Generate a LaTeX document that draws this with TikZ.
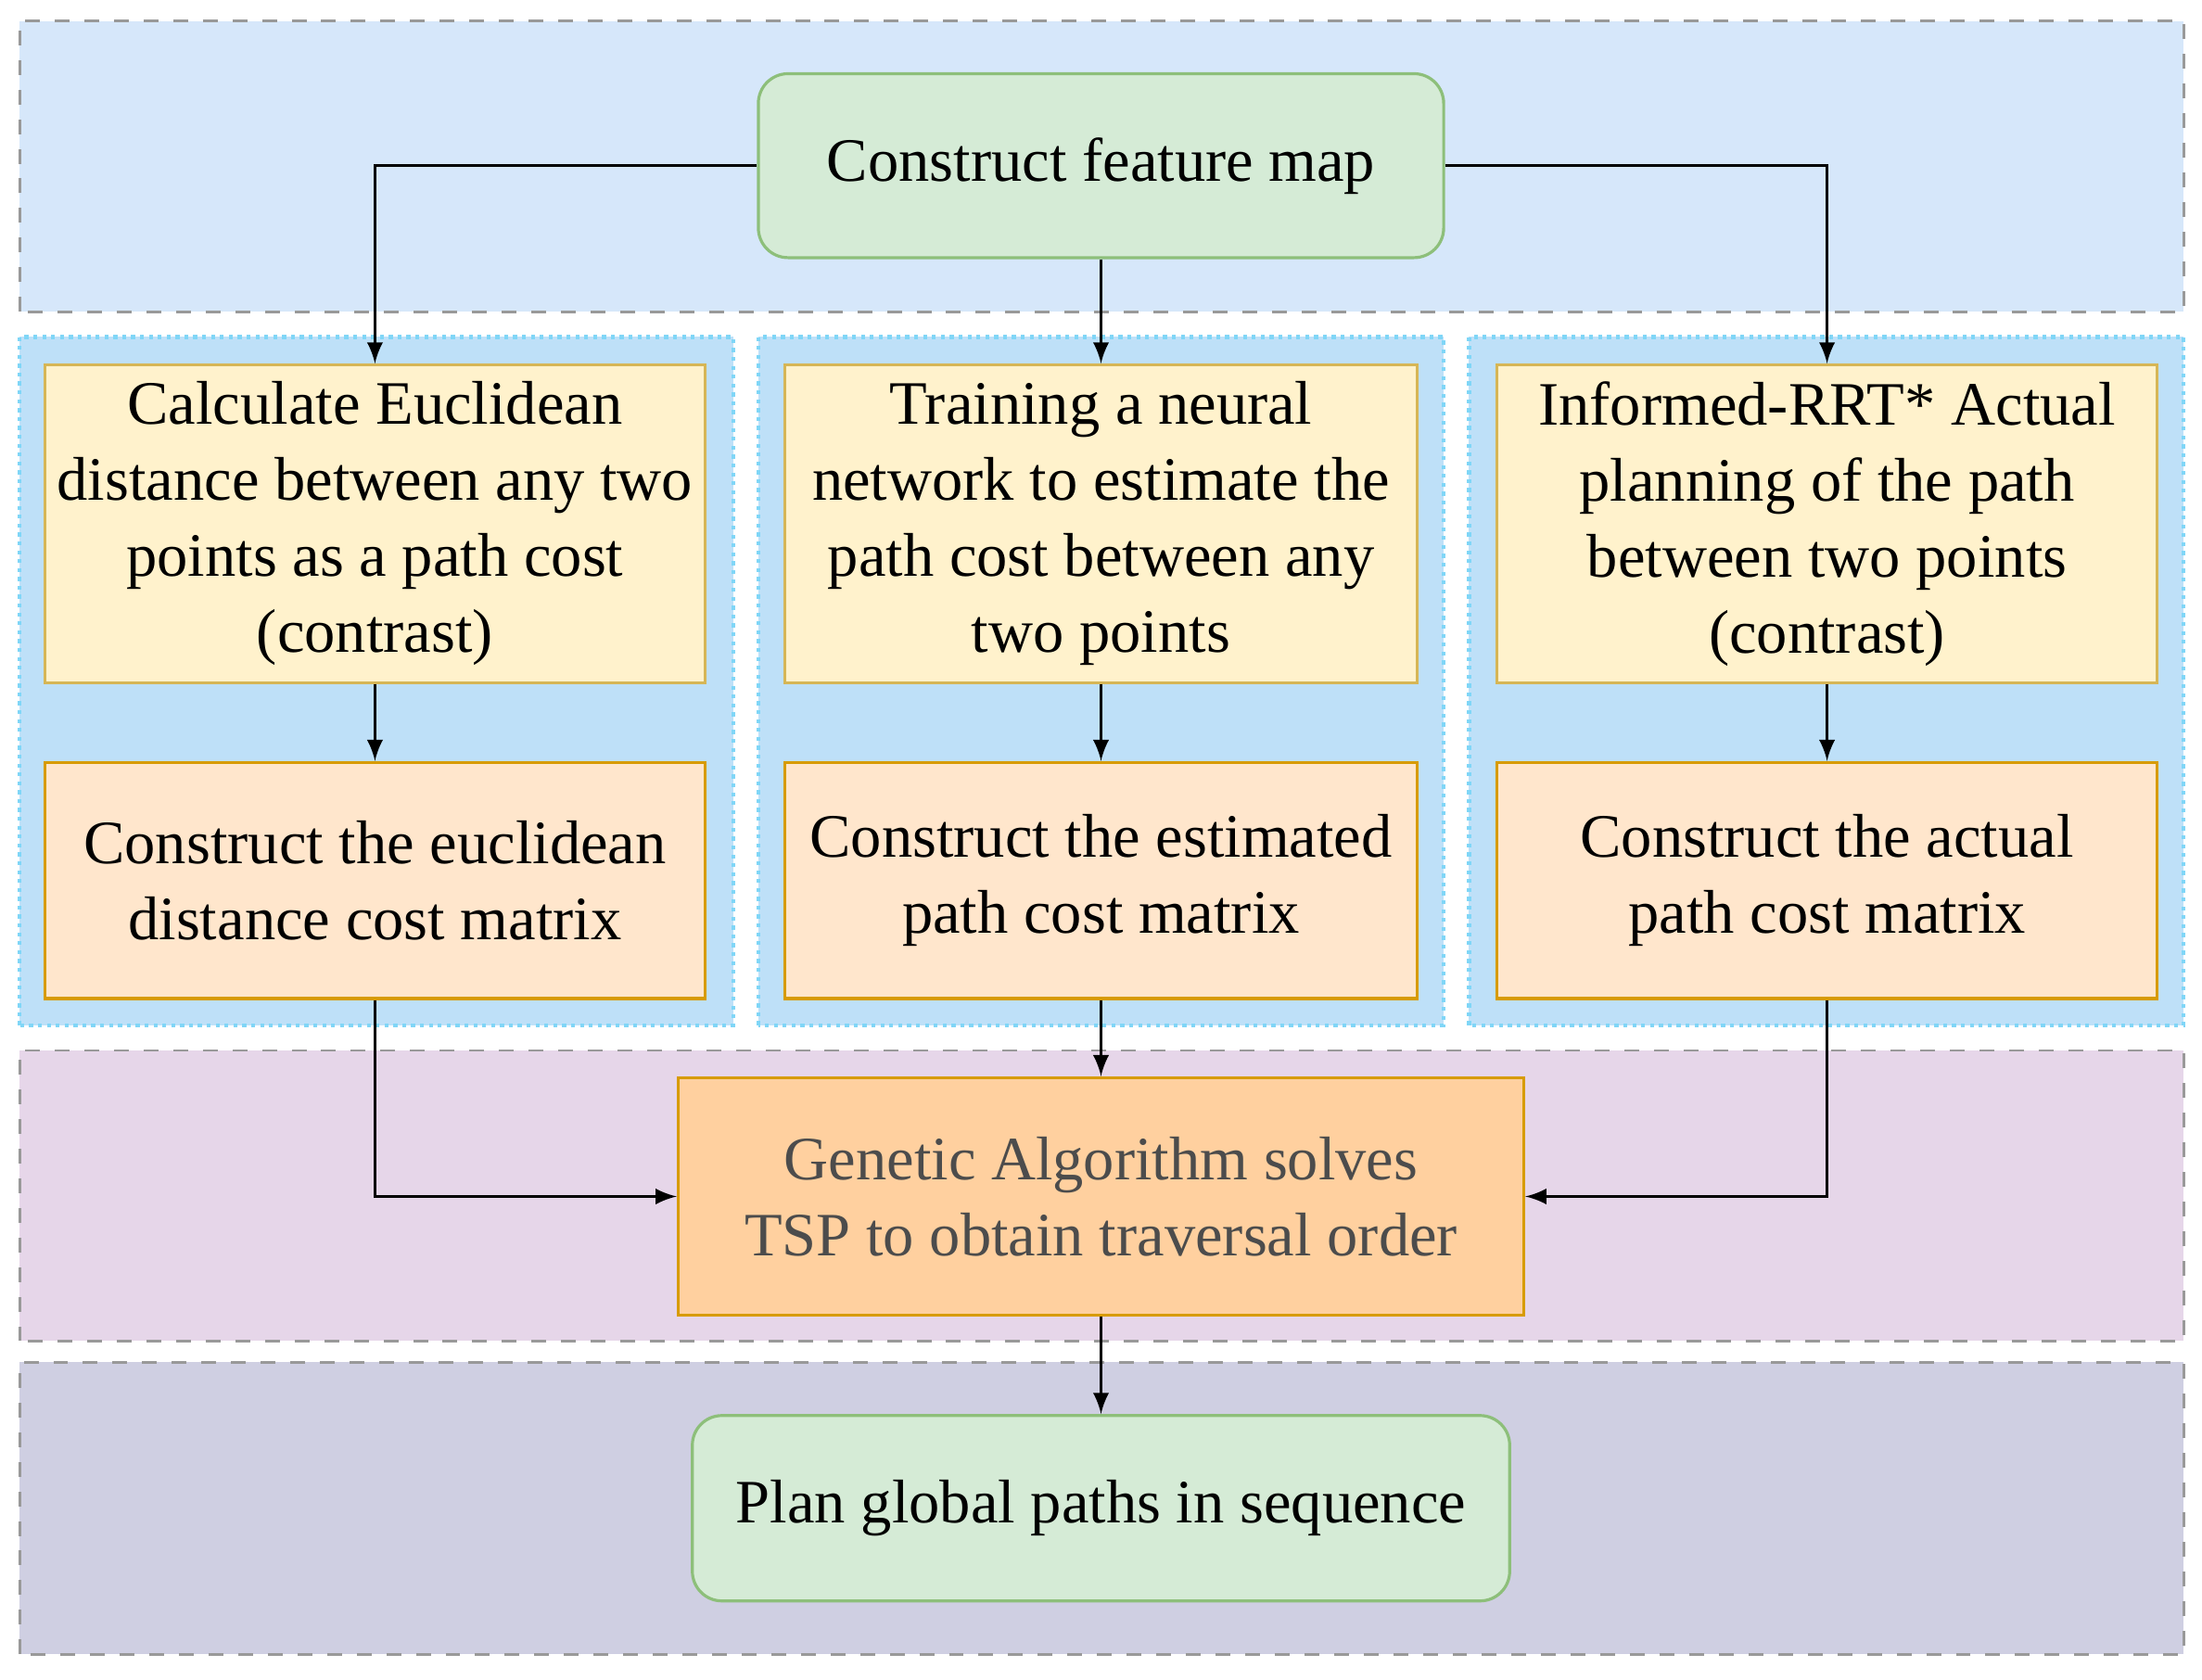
\documentclass[tikz,border=0pt]{standalone}
\usepackage{fontspec}
\setmainfont{Liberation Serif}
\usetikzlibrary{positioning}
\definecolor{bandtop}{HTML}{D6E7FA}
\definecolor{bandcol}{HTML}{BEE0F8}
\definecolor{bandga}{HTML}{E6D6E9}
\definecolor{bandend}{HTML}{CFCFE2}
\definecolor{greenfill}{HTML}{D5EBD6}
\definecolor{greenline}{HTML}{8DBF7A}
\definecolor{yelfill}{HTML}{FFF2CC}
\definecolor{yelline}{HTML}{D6B656}
\definecolor{orafill}{HTML}{FFE6CC}
\definecolor{oraline}{HTML}{D79B00}
\definecolor{gafill}{HTML}{FFD09F}
\tikzset{
  band/.style={draw=gray!80, dashed, line width=0.5pt},
  colband/.style={fill=bandcol, draw=cyan!50, densely dotted, line width=0.8pt},
  green/.style={draw=greenline, fill=greenfill, rounded corners=6pt, line width=0.6pt, align=center},
  costbox/.style={draw=yelline, fill=yelfill, line width=0.6pt, align=center, minimum width=4.7cm, minimum height=2.26cm, inner sep=0pt},
  matrx/.style={draw=oraline, fill=orafill, line width=0.6pt, align=center, minimum width=4.7cm, minimum height=1.68cm, inner sep=0pt},
  arr/.style={-latex, line width=0.5pt}
}
\begin{document}
\begin{tikzpicture}[font=\fontsize{12.5}{15.4}\selectfont]
  \useasboundingbox (0,0) rectangle (15.68,11.96);
  % bands
  \fill[bandtop] (0.14,9.74) rectangle (15.55,11.81);
  \draw[band] (0.14,9.74) rectangle (15.55,11.81);
  \draw[colband] (0.14,4.66) rectangle (5.22,9.56);
  \draw[colband] (5.40,4.66) rectangle (10.28,9.56);
  \draw[colband] (10.46,4.66) rectangle (15.55,9.56);
  \fill[bandga] (0.14,2.41) rectangle (15.55,4.48);
  \draw[band] (0.14,2.41) rectangle (15.55,4.48);
  \fill[bandend] (0.14,0.18) rectangle (15.55,2.26);
  \draw[band] (0.14,0.18) rectangle (15.55,2.26);

  % nodes
  \node[green, minimum width=4.88cm, minimum height=1.31cm] (feat) at (7.84,10.78) {Construct feature map};
  \node[costbox] (eu) at (2.67,8.23) {Calculate Euclidean\\distance between any two\\points as a path cost\\(contrast)};
  \node[costbox, minimum width=4.5cm] (nn) at (7.84,8.23) {Training a neural\\network to estimate the\\path cost between any\\two points};
  \node[costbox] (rrt) at (13.01,8.23) {Informed-RRT* Actual\\planning of the path\\between two points\\(contrast)};
  \node[matrx] (eum) at (2.67,5.69) {Construct the euclidean\\distance cost matrix};
  \node[matrx, minimum width=4.5cm] (nnm) at (7.84,5.69) {Construct the estimated\\path cost matrix};
  \node[matrx] (rrtm) at (13.01,5.69) {Construct the actual\\path cost matrix};
  \node[draw=oraline, fill=gafill, line width=0.6pt, align=center, minimum width=6.02cm, minimum height=1.69cm, text=black!70] (ga) at (7.84,3.44) {Genetic Algorithm solves\\TSP to obtain traversal order};
  \node[green, minimum width=5.82cm, minimum height=1.32cm] (plan) at (7.84,1.22) {Plan global paths in sequence};

  % connectors
  \draw[arr] (feat.west) -| (eu.north);
  \draw[arr] (feat.east) -| (rrt.north);
  \draw[arr] (feat) -- (nn);
  \draw[arr] (eu) -- (eum);
  \draw[arr] (nn) -- (nnm);
  \draw[arr] (rrt) -- (rrtm);
  \draw[arr] (eum.south) |- (ga.west);
  \draw[arr] (rrtm.south) |- (ga.east);
  \draw[arr] (nnm) -- (ga);
  \draw[arr] (ga) -- (plan);
\end{tikzpicture}
\end{document}
